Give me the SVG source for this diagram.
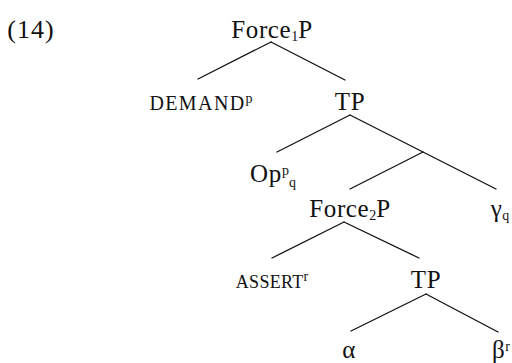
<svg xmlns="http://www.w3.org/2000/svg" width="512" height="363" viewBox="0 0 512 363">
<style>
text{font-family:"Liberation Serif","Times New Roman",serif;font-size:25px;letter-spacing:0.6px;fill:#111;text-anchor:middle}
.num{font-size:26px;letter-spacing:1px}
.sc{font-size:18px;letter-spacing:0.3px}
.sc2{font-size:20px;letter-spacing:1.4px}
.sub{font-size:14px;letter-spacing:0}
.sup{font-size:14px;letter-spacing:0}
.edges line{stroke:#111;stroke-width:1.3;stroke-linecap:round}
</style>
<rect width="512" height="363" fill="#fff"/>
<text class="num" x="31" y="38">(14)</text>
<g id="n-force1p"><text x="272" y="38">Force<tspan class="sub" dy="3">1</tspan><tspan dy="-3">P</tspan></text></g>
<g id="n-demand"><text class="sc2" x="201" y="110">DEMAND<tspan class="sup" dy="-7">p</tspan></text></g>
<g id="n-tp1"><text x="350" y="110">TP</text></g>
<g id="n-op"><text x="273" y="182">Op<tspan class="sup" dy="-7">p</tspan><tspan class="sub" dy="12">q</tspan></text></g>
<g id="n-force2p"><text x="350" y="217">Force<tspan class="sub" dy="3">2</tspan><tspan dy="-3">P</tspan></text></g>
<g id="n-gamma"><text x="500" y="217">γ<tspan class="sub" dy="3">q</tspan></text></g>
<g id="n-assert"><text class="sc" x="272" y="288">ASSERT<tspan class="sup" dy="-7">r</tspan></text></g>
<g id="n-tp2"><text x="426" y="288">TP</text></g>
<g id="n-alpha"><text x="349" y="358">α</text></g>
<g id="n-beta"><text x="501" y="358">β<tspan class="sup" dy="-7">r</tspan></text></g>
<g class="edges" id="edges">
<line x1="271" y1="42" x2="198" y2="79"/>
<line x1="271" y1="42" x2="345" y2="80"/>
<line x1="350" y1="115" x2="277" y2="152"/>
<line x1="350" y1="115" x2="496" y2="189"/>
<line x1="423" y1="152" x2="350" y2="189"/>
<line x1="344" y1="222" x2="272" y2="258"/>
<line x1="344" y1="222" x2="419" y2="258"/>
<line x1="426" y1="294" x2="351" y2="331"/>
<line x1="426" y1="294" x2="498" y2="332"/>
</g>
</svg>
